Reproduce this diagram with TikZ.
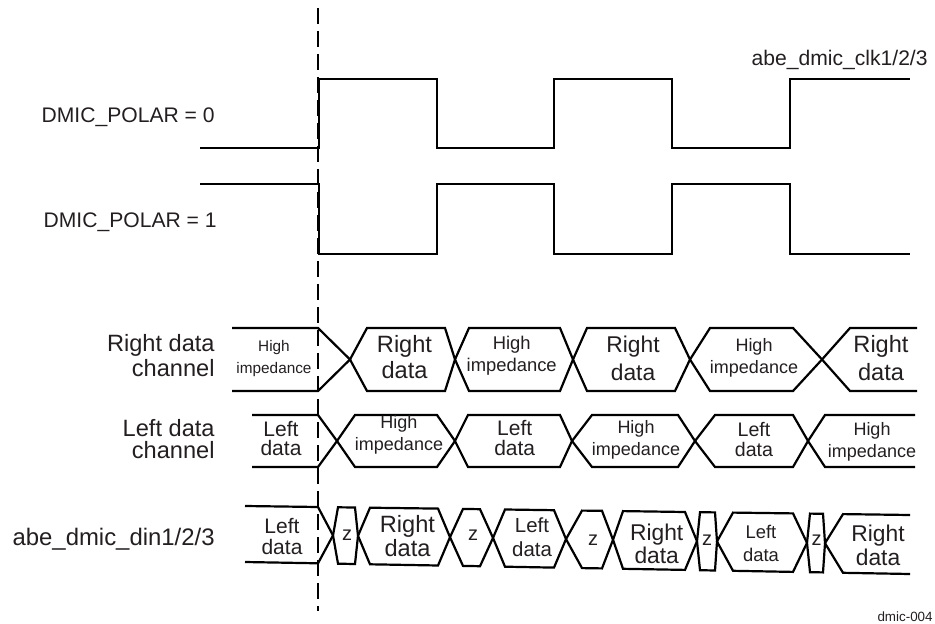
\documentclass[tikz,border=0pt]{standalone}
\usepackage{fontspec}
\setmainfont{Liberation Sans}
\definecolor{txt}{HTML}{231F20}
% two-line stacks: size, baselineskip (pt), line 1, line 2
\newcommand\cstk[4]{\fontsize{#1}{#2}\selectfont\vtop{\baselineskip=#2pt\lineskiplimit=-20pt\lineskip=0pt\halign{\hfil##\hfil\cr#3\cr#4\cr}}}
\newcommand\rstk[4]{\fontsize{#1}{#2}\selectfont\vtop{\baselineskip=#2pt\lineskiplimit=-20pt\lineskip=0pt\halign{\hfil##\cr#3\cr#4\cr}}}
\newcommand\one[2]{\fontsize{#1}{#1}\selectfont #2}
\tikzset{
  sig/.style={line width=1.1pt, line join=miter, draw=black},
  lbl/.style={inner sep=0pt, text=txt},
  refline/.style={line width=0.6pt, dash pattern=on 8pt off 3.5pt, draw=black}
}
\begin{document}
\begin{tikzpicture}[x=0.5pt,y=-0.5pt]
\useasboundingbox (0,0) rectangle (935,624);

% reference (dashed) line
\coordinate (rtop) at (318,8);
\coordinate (rbot) at (318,611);
\draw[refline] (rtop) -- (rbot);

% clocks
\draw[sig] (200,148) -- (319,148) -- (319,79) -- (437,79) -- (437,148) -- (554,148) -- (554,79)
  -- (672,79) -- (672,148) -- (790,148) -- (790,79) -- (910,79);
\draw[sig] (200,184) -- (319,184) -- (319,254) -- (437,254) -- (437,184) -- (554,184) -- (554,254)
  -- (672,254) -- (672,184) -- (790,184) -- (790,254) -- (910,254);

\node[lbl, anchor=base east] (clk) at (928,66) {\one{10.55}{abe\_dmic\_clk1/2/3}};
\node[lbl, anchor=base east] (p0) at (215,123) {\one{10.55}{DMIC\_POLAR = 0}};
\node[lbl, anchor=base east] (p1) at (217,228) {\one{10.55}{DMIC\_POLAR = 1}};

% Right data channel
\draw[sig] (232,328) -- (318,328) -- (350,359.5) -- (367,391) -- (445,391) -- (455,359.5) -- (469,328)
  -- (560,328) -- (573,359.5) -- (587,391) -- (675,391) -- (690,359.5) -- (710,328) -- (793,328)
  -- (822,359.5) -- (850,391) -- (917,391);
\draw[sig] (232,391) -- (318,391) -- (350,359.5) -- (367,328) -- (445,328) -- (455,359.5) -- (469,391)
  -- (560,391) -- (573,359.5) -- (587,328) -- (675,328) -- (690,359.5) -- (710,391) -- (793,391)
  -- (822,359.5) -- (850,328) -- (917,328);
\node[lbl, anchor=base east] (lR) at (215,351.7) {\rstk{11.8}{12.2}{Right data}{channel}};
\node[lbl, anchor=base] (r1) at (274,352) {\cstk{7.67}{10.75}{High}{impedance}};
\node[lbl, anchor=base] (r2) at (404.5,353) {\cstk{11.8}{13}{Right}{data}};
\node[lbl, anchor=base] (r3) at (511.7,350) {\cstk{9.2}{10.85}{High}{impedance}};
\node[lbl, anchor=base] (r4) at (633,353) {\cstk{11.4}{13.5}{Right}{data}};
\node[lbl, anchor=base] (r5) at (754,352) {\cstk{9}{10.5}{High}{impedance}};
\node[lbl, anchor=base] (r6) at (881,353) {\cstk{11.8}{13.5}{Right}{data}};

% Left data channel
\draw[sig] (252,415) -- (318,415) -- (337,441) -- (355,467) -- (437,467) -- (455,441) -- (468,415)
  -- (560,415) -- (572,441) -- (592,467) -- (678,467) -- (695,441) -- (715,415) -- (793,415)
  -- (808,441) -- (825,467) -- (915,467);
\draw[sig] (252,467) -- (318,467) -- (337,441) -- (355,415) -- (437,415) -- (455,441) -- (468,467)
  -- (560,467) -- (572,441) -- (592,415) -- (678,415) -- (695,441) -- (715,467) -- (793,467)
  -- (808,441) -- (825,415) -- (915,415);
\node[lbl, anchor=base east] (lL) at (215,436.7) {\rstk{11.8}{10.8}{Left data}{channel}};
\node[lbl, anchor=base] (l1) at (281,436.7) {\cstk{10.5}{9.2}{Left}{data}};
\node[lbl, anchor=base] (l2) at (399,428) {\cstk{9}{11}{High}{impedance}};
\node[lbl, anchor=base] (l3) at (514.7,435) {\cstk{10.5}{10}{Left}{data}};
\node[lbl, anchor=base] (l4) at (636,433) {\cstk{9}{11}{High}{impedance}};
\node[lbl, anchor=base] (l5) at (754,437) {\cstk{9.8}{9.5}{Left}{data}};
\node[lbl, anchor=base] (l6) at (872,435) {\cstk{9}{11}{High}{impedance}};

% abe_dmic_din1/2/3
\draw[sig] (245,506) -- (318,507) -- (333,535.4) -- (338,563.7) -- (355,564.0) -- (358,535.8) -- (370,507.7)
  -- (438,508.6) -- (450,537.2) -- (463,565.9) -- (480,566.2) -- (493,537.9) -- (505,509.5)
  -- (554,510.2) -- (566,539.1) -- (582,568.1) -- (602,568.4) -- (613,539.8) -- (623,511.1)
  -- (685,512.0) -- (697,541.2) -- (700,570.2) -- (715,570.5) -- (717,541.5) -- (733,512.6)
  -- (793,513.4) -- (807,542.9) -- (810,572.2) -- (823,572.4) -- (825,543.2) -- (843,514.1) -- (910,515.0);
\draw[sig] (245,562) -- (318,563.3) -- (333,535.4) -- (338,507.3) -- (355,507.5) -- (358,535.8) -- (370,564.3)
  -- (438,565.5) -- (450,537.2) -- (463,508.9) -- (480,509.2) -- (493,537.9) -- (505,566.7)
  -- (554,567.6) -- (566,539.1) -- (582,510.6) -- (602,510.8) -- (613,539.8) -- (623,568.8)
  -- (685,569.9) -- (697,541.2) -- (700,512.2) -- (715,512.4) -- (717,541.5) -- (733,570.8)
  -- (793,571.9) -- (807,542.9) -- (810,513.6) -- (823,513.8) -- (825,543.2) -- (843,572.8) -- (910,574.0);
\node[lbl, anchor=base east] (lD) at (215,545) {\one{11.95}{abe\_dmic\_din1/2/3}};
\node[lbl, anchor=base] (d1) at (282,533.3) {\cstk{10.5}{10.35}{Left}{data}};
\node[lbl, anchor=base] (z1) at (347,540) {\one{10}{z}};
\node[lbl, anchor=base] (d2) at (407.5,532.7) {\cstk{11.8}{12}{Right}{data}};
\node[lbl, anchor=base] (z2) at (473,540.7) {\one{10}{z}};
\node[lbl, anchor=base] (d3) at (532,532.7) {\cstk{10.2}{11.7}{Left}{data}};
\node[lbl, anchor=base] (z3) at (593,545) {\one{10}{z}};
\node[lbl, anchor=base] (d4) at (656.7,540) {\cstk{11.4}{11.5}{Right}{data}};
\node[lbl, anchor=base] (z4) at (707,545) {\one{10}{z}};
\node[lbl, anchor=base] (d5) at (761,538) {\cstk{9.2}{11.8}{Left}{data}};
\node[lbl, anchor=base] (z5) at (816.7,545) {\one{10}{z}};
\node[lbl, anchor=base] (d6) at (878,541.7) {\cstk{11.4}{11.7}{Right}{data}};

\node[lbl, anchor=base east] (fig) at (933,621) {\one{6.7}{dmic-004}};
\end{tikzpicture}
\end{document}
